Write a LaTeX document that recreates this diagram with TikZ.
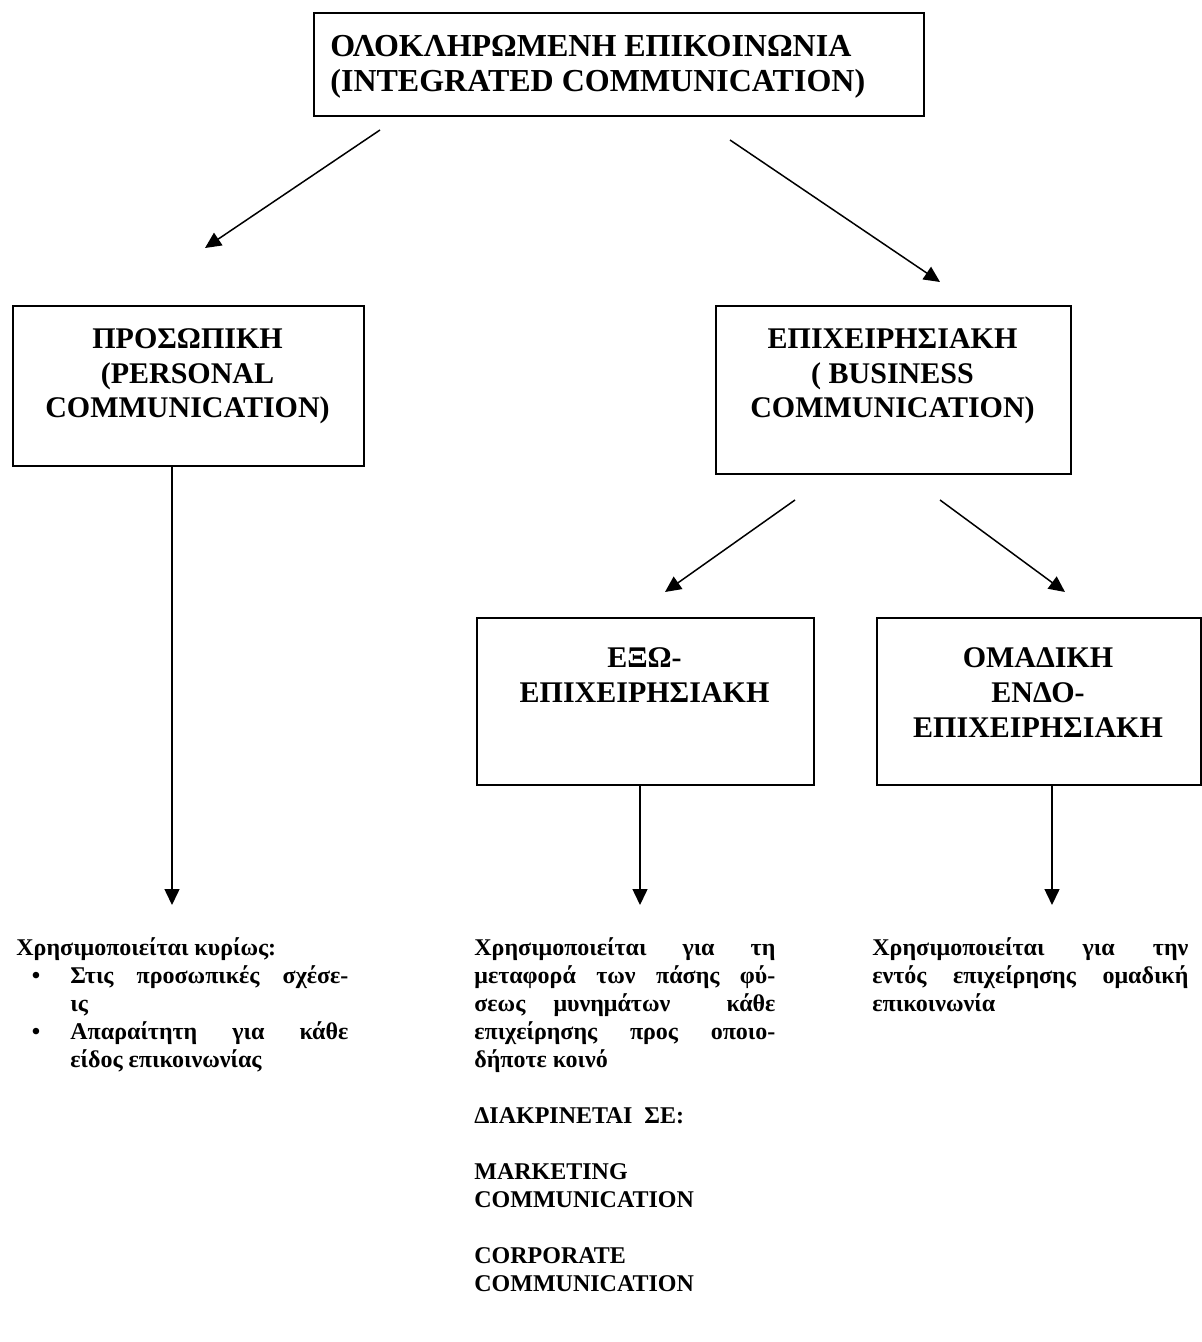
\documentclass[tikz,border=0pt]{standalone}
\usepackage{fontspec}
\setmainfont{Liberation Serif}
\usetikzlibrary{arrows.meta}
\newcommand{\jl}[2]{\makebox[#1][s]{#2}}
\begin{document}
\begin{tikzpicture}[x=0.5pt,y=-0.5pt,
  box/.style={draw, line width=1pt, inner sep=0pt, anchor=north west},
  ttl/.style={font=\fontsize{15}{17}\selectfont\bfseries, inner sep=0pt, anchor=base},
  ttlL/.style={font=\fontsize{16}{18}\selectfont\bfseries, inner sep=0pt, anchor=base west},
  body/.style={font=\fontsize{12}{14}\selectfont\bfseries, inner sep=0pt, anchor=base west},
  bul/.style={font=\fontsize{12}{14}\selectfont\bfseries, inner sep=0pt, anchor=base},
  arr/.style={line width=0.75pt, -{Triangle[width=7.5pt,length=8pt]}},
]
\useasboundingbox (0,0) rectangle (1202,1342);

% boxes
\node[box, minimum width=305pt, minimum height=51.5pt] (top) at (313,12) {};
\node[box, minimum width=175.5pt, minimum height=80pt] (pers) at (12,305) {};
\node[box, minimum width=177.5pt, minimum height=84pt] (bus) at (715,305) {};
\node[box, minimum width=168.5pt, minimum height=83.5pt] (exo) at (476,617) {};
\node[box, minimum width=162pt, minimum height=83.5pt] (oma) at (876,617) {};

% titles
\node[ttlL] (top1) at (330,57) {ΟΛΟΚΛΗΡΩΜΕΝΗ ΕΠΙΚΟΙΝΩΝΙΑ};
\node[ttlL] (top2) at (330,92) {(INTEGRATED COMMUNICATION)};

\node[ttl] (pers1) at (187.5,349) {ΠΡΟΣΩΠΙΚΗ};
\node[ttl] (pers2) at (187.5,383) {(PERSONAL};
\node[ttl] (pers3) at (187.5,417) {COMMUNICATION)};

\node[ttl] (bus1) at (892.5,349) {ΕΠΙΧΕΙΡΗΣΙΑΚΗ};
\node[ttl] (bus2) at (892.5,383) {( BUSINESS};
\node[ttl] (bus3) at (892.5,417) {COMMUNICATION)};

\node[ttl] (exo1) at (644.5,667) {ΕΞΩ-};
\node[ttl] (exo2) at (644.5,702) {ΕΠΙΧΕΙΡΗΣΙΑΚΗ};

\node[ttl] (oma1) at (1038,667) {ΟΜΑΔΙΚΗ};
\node[ttl] (oma2) at (1038,702) {ΕΝΔΟ-};
\node[ttl] (oma3) at (1038,737) {ΕΠΙΧΕΙΡΗΣΙΑΚΗ};

% arrow end points
\coordinate (a1s) at (380,130);
\coordinate (a1e) at (205,248);
\coordinate (a2s) at (730,140);
\coordinate (a2e) at (940,282);
\coordinate (a3s) at (795,500);
\coordinate (a3e) at (665,592);
\coordinate (a4s) at (940,500);
\coordinate (a4e) at (1065,592);
\coordinate (a5e) at (172,905);
\coordinate (a6e) at (640,905);
\coordinate (a7e) at (1052,905);

\draw[arr] (a1s) -- (a1e);
\draw[arr] (a2s) -- (a2e);
\draw[arr] (a3s) -- (a3e);
\draw[arr] (a4s) -- (a4e);
\draw[arr] (pers.south -| a5e) -- (a5e);
\draw[arr] (exo.south -| a6e) -- (a6e);
\draw[arr] (oma.south -| a7e) -- (a7e);

% left text
\node[body] (l1) at (16,955) {Χρησιμοποιείται κυρίως:};
\node[bul] (b1) at (36,983) {\textbullet};
\node[body] (l2) at (70,983) {\jl{139pt}{Στις προσωπικές σχέσε-}};
\node[body] (l3) at (70,1011) {ις};
\node[bul] (b2) at (36,1039) {\textbullet};
\node[body] (l4) at (70,1039) {\jl{139pt}{Απαραίτητη για κάθε}};
\node[body] (l5) at (70,1067) {είδος επικοινωνίας};

% middle text
\node[body] (m1) at (474,955) {\jl{150.5pt}{Χρησιμοποιείται για τη}};
\node[body] (m2) at (474,983) {\jl{150.5pt}{μεταφορά των πάσης φύ-}};
\node[body] (m3) at (474,1011) {\jl{150.5pt}{σεως μυνημάτων\ \ κάθε}};
\node[body] (m4) at (474,1039) {\jl{150.5pt}{επιχείρησης προς οποιο-}};
\node[body] (m5) at (474,1067) {δήποτε κοινό};
\node[body] (m6) at (474,1123) {ΔΙΑΚΡΙΝΕΤΑΙ\ \ ΣΕ:};
\node[body] (m7) at (474,1179) {MARKETING};
\node[body] (m8) at (474,1207) {COMMUNICATION};
\node[body] (m9) at (474,1263) {CORPORATE};
\node[body] (m10) at (474,1291) {COMMUNICATION};

% right text
\node[body] (r1) at (872,955) {\jl{158pt}{Χρησιμοποιείται για την}};
\node[body] (r2) at (872,983) {\jl{158pt}{εντός επιχείρησης ομαδική}};
\node[body] (r3) at (872,1011) {επικοινωνία};
\end{tikzpicture}
\end{document}
